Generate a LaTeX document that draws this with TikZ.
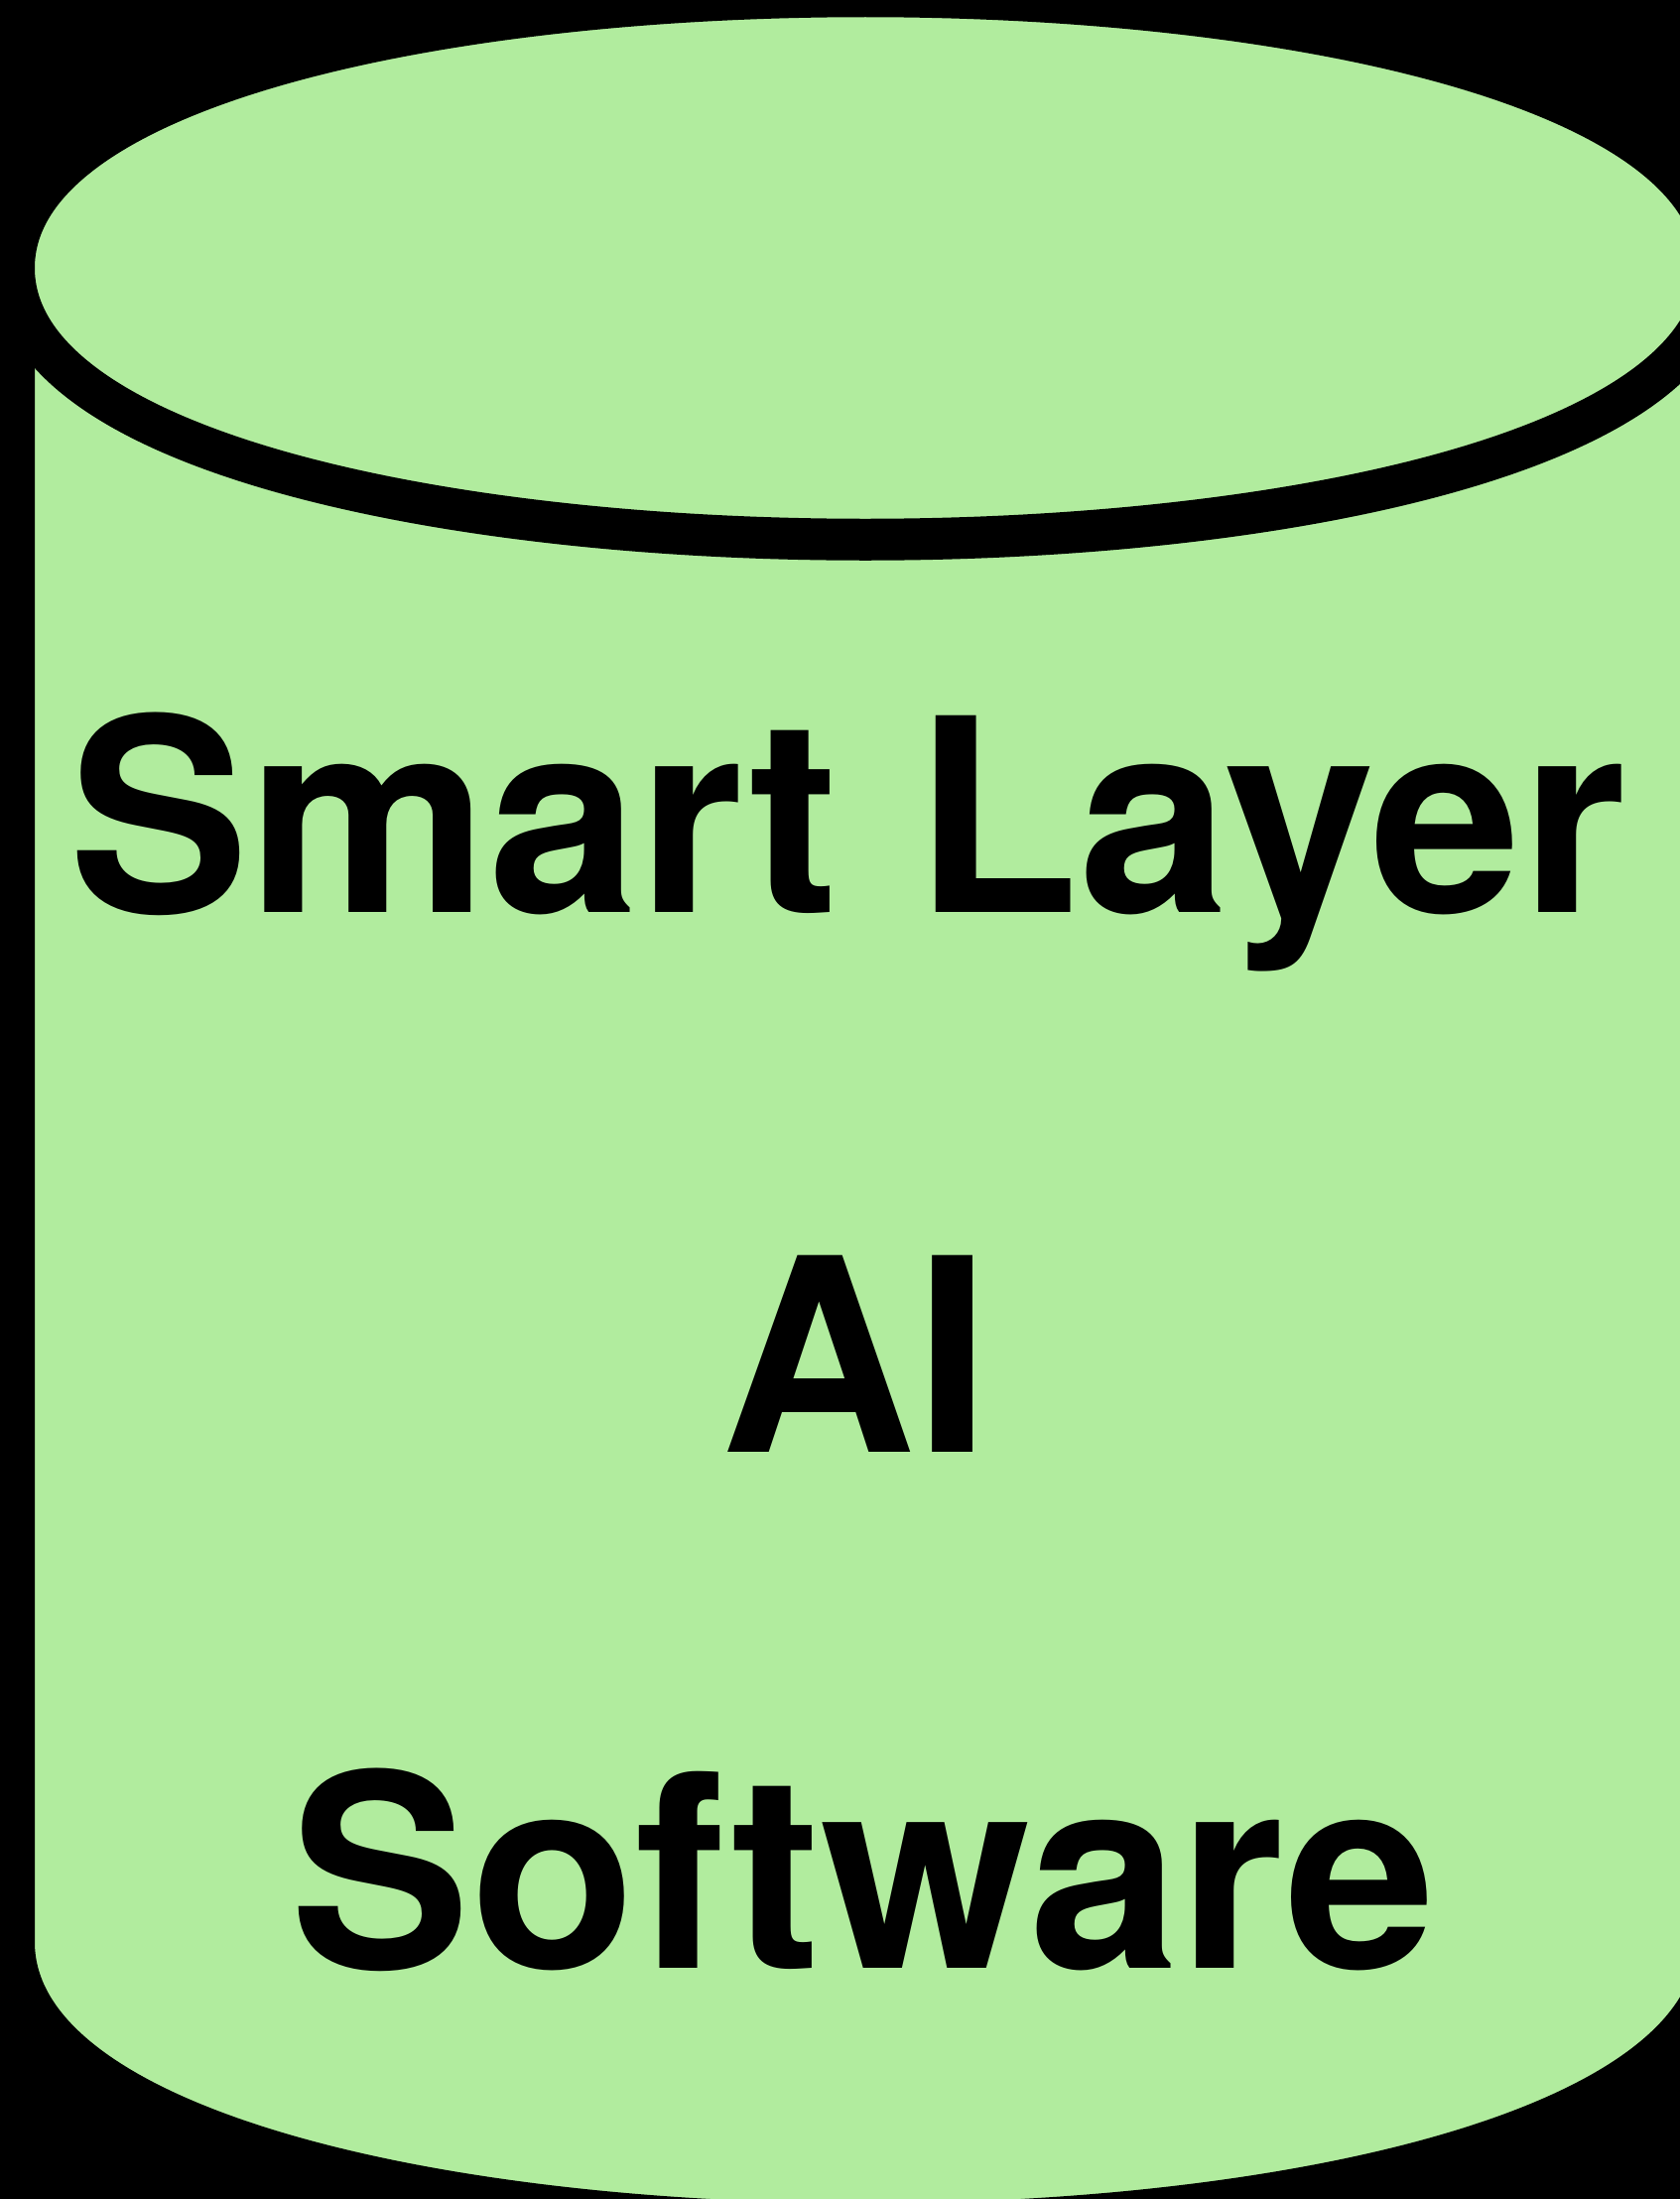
\documentclass[tikz,border=0pt]{standalone}
\usepackage{fontspec}
\setmainfont{TeX Gyre Heros}
\definecolor{cylgreen}{HTML}{B1EC9E}
\begin{document}
\begin{tikzpicture}[x=1pt,y=-1pt,
    cyl/.style={fill=cylgreen,draw=black,line width=42pt,line join=round},
    word/.style={anchor=base,inner sep=0pt,font=\bfseries\fontsize{272}{300}\selectfont}]
      \useasboundingbox (0,0) rectangle (1692,2216);
      \fill[black] (-20,-20) rectangle (1712,2236);
      % body of the cylinder
      \draw[cyl] (14,270) -- (14,1957)
        .. controls (14,2336) and (1730,2336) .. (1730,1957)
        -- (1730,270)
        .. controls (1730,-95) and (14,-95) .. (14,270) -- cycle;
      % top
      \draw[cyl] (14,270)
        .. controls (14,-95) and (1730,-95) .. (1730,270)
        .. controls (1730,635) and (14,635) .. (14,270) -- cycle;
      \draw
        (854,919) node[word] (smart){Smart Layer}
        (862,1463) node[word] (ai){AI}
        (870,1983) node[word] (soft){Software};
    \end{tikzpicture}
\end{document}
